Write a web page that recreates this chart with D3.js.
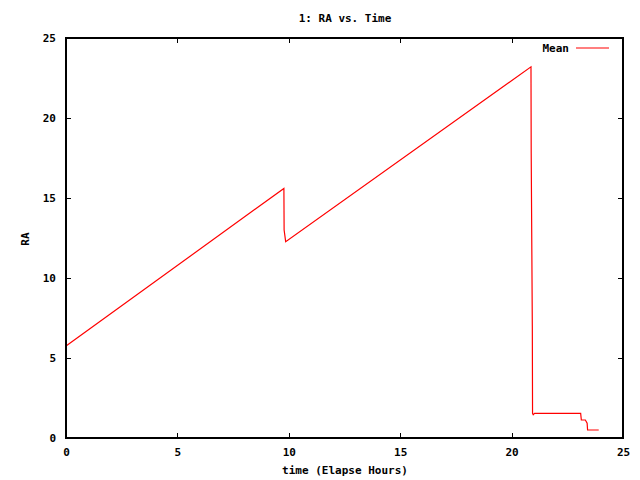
<!DOCTYPE html>
<html>
<head>
<meta charset="utf-8">
<script src="https://cdn.jsdelivr.net/npm/d3@7"></script>
<style>
  body { margin: 0; background: #fff; }
  text { font-family: "DejaVu Sans Mono", monospace; font-weight: bold; font-size: 11px; fill: #000; }
</style>
</head>
<body>
<script>
const width = 640;
const height = 480;

// elapsed hours and RA mean
const hours = [0, 9.78, 9.79, 9.86, 20.87, 20.88, 20.93, 20.94, 20.97, 21.03, 21.1, 23.1, 23.13, 23.31, 23.39, 23.41, 23.91];
const raMean = [5.75, 15.6, 13.0, 12.27, 23.2, 17.8, 7.0, 1.54, 1.45, 1.54, 1.54, 1.54, 1.125, 1.125, 0.92, 0.5, 0.5];
const xTicks = [0, 5, 10, 15, 20, 25];
const yTicks = [0, 5, 10, 15, 20, 25];

const margin = {left: 66, right: 17, top: 38, bottom: 42};

const svg = d3.select('body')
    .append('svg')
    .attr('width', width)
    .attr('height', height);

const x = d3.scaleLinear().domain([0, 25]).range([margin.left, width - margin.right]);
const y = d3.scaleLinear().domain([0, 25]).range([height - margin.bottom, margin.top]);

const plot = svg.append('g');

// ticks pointing inward on all four sides
const tickLen = 5;
const axisStyle = g => {
    g.select('.domain').remove();
    g.selectAll('line').attr('stroke', '#000').attr('shape-rendering', 'crispEdges');
    g.selectAll('text').attr('fill', '#000').style('font-size', '11px');
};

svg.append('g')
    .attr('transform', `translate(0,${y(0)})`)
    .call(d3.axisBottom(x).tickValues(xTicks).tickSize(-tickLen).tickPadding(10).tickFormat(d3.format('d')))
    .call(axisStyle);

svg.append('g')
    .attr('transform', `translate(0,${y(25)})`)
    .call(d3.axisTop(x).tickValues(xTicks.slice(1, -1)).tickSize(-tickLen).tickFormat(''))
    .call(axisStyle);

svg.append('g')
    .attr('transform', `translate(${x(0)},0)`)
    .call(d3.axisLeft(y).tickValues(yTicks).tickSize(-tickLen).tickPadding(10).tickFormat(d3.format('d')))
    .call(axisStyle);

svg.append('g')
    .attr('transform', `translate(${x(25)},0)`)
    .call(d3.axisRight(y).tickValues(yTicks.slice(1, -1)).tickSize(-tickLen).tickFormat(''))
    .call(axisStyle);

// frame
svg.append('rect')
    .attr('x', x(0))
    .attr('y', y(25))
    .attr('width', x(25) - x(0))
    .attr('height', y(0) - y(25))
    .attr('fill', 'none')
    .attr('stroke', '#000')
    .attr('stroke-width', 1.3)
    .attr('shape-rendering', 'crispEdges');

const line = d3.line()
    .x((d, i) => x(hours[i]))
    .y(d => y(d));

plot.append('path')
    .datum(raMean)
    .attr('d', line)
    .attr('fill', 'none')
    .attr('stroke', '#ff0000')
    .attr('stroke-width', 1.2);

// title and labels
svg.append('text')
    .attr('x', 345)
    .attr('y', 22)
    .attr('text-anchor', 'middle')
    .text('1: RA vs. Time');

svg.append('text')
    .attr('x', 345)
    .attr('y', 474)
    .attr('text-anchor', 'middle')
    .text('time (Elapse Hours)');

svg.append('text')
    .attr('transform', 'translate(29,239) rotate(-90)')
    .attr('text-anchor', 'middle')
    .text('RA');

// legend
svg.append('text')
    .attr('x', 569)
    .attr('y', 52)
    .attr('text-anchor', 'end')
    .text('Mean');

svg.append('line')
    .attr('x1', 576)
    .attr('x2', 609)
    .attr('y1', 48)
    .attr('y2', 48)
    .attr('stroke', '#ff0000')
    .attr('stroke-width', 1.2);
</script>
</body>
</html>
